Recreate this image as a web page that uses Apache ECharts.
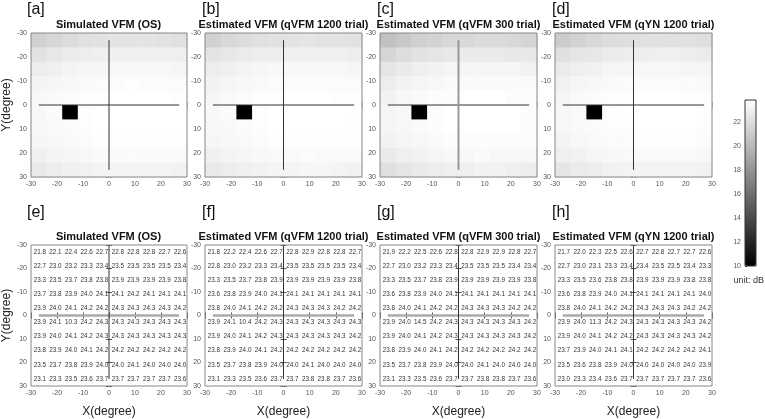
<!DOCTYPE html>
<html><head><meta charset="utf-8">
<script src="https://cdn.jsdelivr.net/npm/echarts@6/dist/echarts.min.js"></script>
<style>html,body{margin:0;padding:0;background:#fff}#c{width:765px;height:419px}</style>
</head><body><div id="c"></div>
<script>
// ---- data ----
const axisTicks = [-30, -20, -10, 0, 10, 20, 30];
const cellCenters = [-27, -21, -15, -9, -3, 3, 9, 15, 21, 27];
const panelTitles = ['Simulated VFM (OS)', 'Estimated VFM (qVFM 1200 trial)', 'Estimated VFM (qVFM 300 trial)', 'Estimated VFM (qYN 1200 trial)'];
const topLetters = ['[a]', '[b]', '[c]', '[d]'];
const bottomLetters = ['[e]', '[f]', '[g]', '[h]'];
const colorbarTicks = [10, 12, 14, 16, 18, 20, 22];
const colorbarRange = [10, 23.8];

const vfmOS = [
  [21.8, 22.1, 22.4, 22.6, 22.7, 22.8, 22.8, 22.8, 22.7, 22.6],
  [22.7, 23.0, 23.2, 23.3, 23.4, 23.5, 23.5, 23.5, 23.5, 23.4],
  [23.3, 23.5, 23.7, 23.8, 23.8, 23.9, 23.9, 23.9, 23.9, 23.8],
  [23.7, 23.8, 23.9, 24.0, 24.1, 24.1, 24.2, 24.1, 24.1, 24.1],
  [23.9, 24.0, 24.1, 24.2, 24.2, 24.3, 24.3, 24.3, 24.3, 24.2],
  [23.9, 24.1, 10.3, 24.2, 24.3, 24.3, 24.3, 24.3, 24.3, 24.3],
  [23.9, 24.0, 24.1, 24.2, 24.3, 24.3, 24.3, 24.3, 24.3, 24.3],
  [23.8, 23.9, 24.0, 24.1, 24.2, 24.2, 24.2, 24.2, 24.2, 24.2],
  [23.5, 23.7, 23.8, 23.9, 24.0, 24.0, 24.1, 24.0, 24.0, 24.0],
  [23.1, 23.3, 23.5, 23.6, 23.7, 23.7, 23.7, 23.7, 23.7, 23.6]
];
const vfmQ1200 = [
  [21.8, 22.2, 22.4, 22.6, 22.7, 22.8, 22.9, 22.8, 22.8, 22.7],
  [22.8, 23.0, 23.2, 23.3, 23.4, 23.5, 23.5, 23.5, 23.5, 23.4],
  [23.3, 23.5, 23.7, 23.8, 23.9, 23.9, 23.9, 23.9, 23.9, 23.8],
  [23.6, 23.8, 23.9, 24.0, 24.1, 24.1, 24.1, 24.1, 24.1, 24.1],
  [23.8, 24.0, 24.1, 24.2, 24.2, 24.3, 24.3, 24.3, 24.2, 24.2],
  [23.9, 24.1, 10.4, 24.2, 24.3, 24.3, 24.3, 24.3, 24.3, 24.3],
  [23.9, 24.0, 24.1, 24.2, 24.3, 24.3, 24.3, 24.3, 24.3, 24.2],
  [23.8, 23.9, 24.0, 24.1, 24.2, 24.2, 24.2, 24.2, 24.2, 24.2],
  [23.5, 23.7, 23.8, 23.9, 24.0, 24.0, 24.1, 24.0, 24.0, 24.0],
  [23.1, 23.3, 23.5, 23.6, 23.7, 23.7, 23.8, 23.8, 23.7, 23.6]
];
const vfmQ300 = [
  [21.9, 22.2, 22.5, 22.6, 22.8, 22.8, 22.9, 22.9, 22.8, 22.7],
  [22.7, 23.0, 23.2, 23.3, 23.4, 23.5, 23.5, 23.5, 23.4, 23.4],
  [23.3, 23.5, 23.7, 23.8, 23.9, 23.9, 23.9, 23.9, 23.9, 23.8],
  [23.6, 23.8, 23.9, 24.0, 24.1, 24.1, 24.1, 24.1, 24.1, 24.1],
  [23.8, 24.0, 24.1, 24.2, 24.2, 24.3, 24.3, 24.3, 24.2, 24.2],
  [23.9, 24.0, 14.5, 24.2, 24.3, 24.3, 24.3, 24.3, 24.3, 24.2],
  [23.9, 24.0, 24.1, 24.2, 24.3, 24.3, 24.3, 24.3, 24.3, 24.2],
  [23.8, 23.9, 24.0, 24.1, 24.2, 24.2, 24.2, 24.2, 24.2, 24.2],
  [23.5, 23.7, 23.8, 23.9, 24.0, 24.0, 24.1, 24.0, 24.0, 24.0],
  [23.1, 23.3, 23.5, 23.6, 23.7, 23.7, 23.8, 23.8, 23.7, 23.6]
];
const vfmYN = [
  [21.7, 22.0, 22.3, 22.5, 22.6, 22.7, 22.8, 22.7, 22.7, 22.6],
  [22.7, 23.0, 23.1, 23.3, 23.4, 23.4, 23.5, 23.5, 23.4, 23.3],
  [23.3, 23.5, 23.6, 23.8, 23.8, 23.9, 23.9, 23.9, 23.8, 23.8],
  [23.6, 23.8, 23.9, 24.0, 24.1, 24.1, 24.1, 24.1, 24.1, 24.0],
  [23.8, 24.0, 24.1, 24.2, 24.2, 24.3, 24.3, 24.3, 24.2, 24.2],
  [23.9, 24.0, 11.3, 24.2, 24.3, 24.3, 24.3, 24.3, 24.3, 24.2],
  [23.9, 24.0, 24.1, 24.2, 24.2, 24.3, 24.3, 24.3, 24.3, 24.2],
  [23.7, 23.9, 24.0, 24.1, 24.1, 24.2, 24.2, 24.2, 24.2, 24.1],
  [23.5, 23.6, 23.8, 23.9, 24.0, 24.0, 24.0, 24.0, 24.0, 23.9],
  [23.0, 23.3, 23.4, 23.6, 23.7, 23.7, 23.7, 23.7, 23.7, 23.6]
];
const panels = [vfmOS, vfmQ1200, vfmQ300, vfmYN];

// cross lines (degrees)
const crossH = [[-27, 0], [27, 0]];
const crossVTop = [[0, -27], [0, 27]];
const crossVBottom = [[0, -30], [0, 27]];

// ---- layout ----
const FONT = 'Liberation Sans, Arial, sans-serif';
const L0 = 30, STEP = 175, PW = 157;
const TOP1 = 33, PH1 = 144, TOP2 = 245, PH2 = 143;
const CB = {left: 745, top: 100, width: 11, height: 166};

function toCells(m) {
  const out = [];
  m.forEach((row, r) => row.forEach((v, c) => out.push([cellCenters[c], cellCenters[r], v])));
  return out;
}

const grid = [], xAxis = [], yAxis = [], series = [], visualMap = [], graphic = [];

function addAxes(g, isBottomRow) {
  const base = {min: -30, max: 30, interval: 10, type: 'value', gridIndex: g,
    splitLine: {show: false}, axisLine: {show: false},
    axisTick: {inside: true, length: 3, lineStyle: {color: '#555'}}};
  xAxis.push(Object.assign({}, base, {position: 'bottom',
    axisLabel: {fontSize: 7, color: '#555', margin: 4, fontFamily: FONT},
    name: isBottomRow ? 'X(degree)' : '', nameLocation: 'middle', nameGap: 20,
    nameTextStyle: {fontSize: 12, color: '#222', fontFamily: FONT}}));
  xAxis.push(Object.assign({}, base, {position: 'top', axisLabel: {show: false}}));
  const first = (g % 4) === 0;
  yAxis.push(Object.assign({}, base, {position: 'left', inverse: true,
    axisLabel: {fontSize: 7, color: '#555', margin: 4, fontFamily: FONT},
    name: first ? 'Y(degree)' : '', nameLocation: 'middle', nameGap: 18,
    nameTextStyle: {fontSize: 12, color: '#222', fontFamily: FONT}}));
  yAxis.push(Object.assign({}, base, {position: 'right', inverse: true, axisLabel: {show: false}}));
}

for (let i = 0; i < 4; i++) {
  grid.push({left: L0 + STEP * i, top: TOP1, width: PW, height: PH1, show: true, borderColor: '#888', borderWidth: 1, z: 5});
}
for (let i = 0; i < 4; i++) {
  grid.push({left: L0 + STEP * i, top: TOP2, width: PW, height: PH2, show: true, borderColor: '#888', borderWidth: 1, z: 5});
}
for (let g = 0; g < 8; g++) addAxes(g, g >= 4);

// colorbar grid (index 8)
grid.push({left: CB.left, top: CB.top, width: CB.width, height: CB.height, show: true, borderColor: '#333', borderWidth: 1, z: 10});
xAxis.push({type: 'value', gridIndex: 8, show: false, min: 0, max: 1});
yAxis.push({type: 'value', gridIndex: 8, min: colorbarRange[0], max: colorbarRange[1], interval: 2,
  position: 'left', axisLine: {show: false}, splitLine: {show: false},
  axisTick: {inside: true, length: 2, lineStyle: {color: '#333'}},
  axisLabel: {fontSize: 7, color: '#555', margin: 4, fontFamily: FONT, showMaxLabel: false,
    formatter: v => colorbarTicks.indexOf(v) >= 0 ? String(v) : ''}});

// heat series (top row)
panels.forEach((m, i) => {
  const flat = m.flat();
  visualMap.push({type: 'continuous', show: false, seriesIndex: series.length, dimension: 2,
    min: Math.min.apply(null, flat), max: Math.max.apply(null, flat),
    inRange: {color: ['#000000', '#ffffff']}});
  series.push({type: 'custom', xAxisIndex: 2 * i, yAxisIndex: 2 * i, data: toCells(m), z: 1,
    renderItem: (params, api) => {
      const x = api.value(0), y = api.value(1);
      const p1 = api.coord([x - 3, y - 3]), p2 = api.coord([x + 3, y + 3]);
      return {type: 'rect', shape: {x: Math.min(p1[0], p2[0]), y: Math.min(p1[1], p2[1]),
        width: Math.abs(p2[0] - p1[0]) + 0.6, height: Math.abs(p2[1] - p1[1]) + 0.6},
        style: {fill: api.visual('color')}};
    }});
});

// cross lines
for (let g = 0; g < 8; g++) {
  const bottom = g >= 4;
  series.push({type: 'line', xAxisIndex: 2 * g, yAxisIndex: 2 * g, data: crossH, symbol: 'none', z: 3,
    lineStyle: bottom ? {color: '#aaa', width: 2.5} : {color: '#333', width: 1}, silent: true});
  const vStyle = (g === 2) ? {color: '#999', width: 2} : {color: '#333', width: 1};
  series.push({type: 'line', xAxisIndex: 2 * g, yAxisIndex: 2 * g, data: bottom ? crossVBottom : crossVTop,
    symbol: 'none', z: 3, lineStyle: vStyle, silent: true});
}

// numbers (bottom row)
panels.forEach((m, i) => {
  const g = 4 + i;
  series.push({type: 'custom', xAxisIndex: 2 * g, yAxisIndex: 2 * g, data: toCells(m), z: 4,
    renderItem: (params, api) => {
      const p = api.coord([api.value(0), api.value(1)]);
      return {type: 'text', x: p[0] + 1, y: p[1],
        style: {text: api.value(2).toFixed(1), font: '6.3px ' + FONT, fill: '#333', align: 'center', verticalAlign: 'middle'}};
    }});
});

// colorbar visual map on a dummy empty series
visualMap.push({type: 'continuous', show: true, seriesIndex: series.length, dimension: 1,
  min: colorbarRange[0], max: colorbarRange[1], orient: 'vertical', left: CB.left, top: CB.top,
  itemWidth: CB.width, itemHeight: CB.height, padding: 0, calculable: false, hoverLink: false,
  text: ['', ''], textGap: 0, textStyle: {fontSize: 1, color: 'transparent'},
  inRange: {color: ['#000000', '#ffffff']}});
series.push({type: 'custom', xAxisIndex: 16, yAxisIndex: 16, data: [], renderItem: () => null});

// texts
for (let i = 0; i < 4; i++) {
  const cx = L0 + STEP * i + PW / 2;
  graphic.push({type: 'text', x: cx, y: 25, style: {text: panelTitles[i], font: 'bold 11px ' + FONT, fill: '#111', align: 'center', verticalAlign: 'middle'}});
  graphic.push({type: 'text', x: cx, y: 237, style: {text: panelTitles[i], font: 'bold 11px ' + FONT, fill: '#111', align: 'center', verticalAlign: 'middle'}});
  graphic.push({type: 'text', x: L0 + STEP * i - 3, y: 10, style: {text: topLetters[i], font: '16px ' + FONT, fill: '#111', align: 'left', verticalAlign: 'middle'}});
  graphic.push({type: 'text', x: L0 + STEP * i - 3, y: 213, style: {text: bottomLetters[i], font: '16px ' + FONT, fill: '#111', align: 'left', verticalAlign: 'middle'}});
}
graphic.push({type: 'text', x: 764, y: 281, style: {text: 'unit: dB', font: '9px ' + FONT, fill: '#333', align: 'right', verticalAlign: 'middle'}});

const chart = echarts.init(document.getElementById('c'), null, {renderer: 'canvas'});
chart.setOption({animation: false, backgroundColor: '#fff', grid, xAxis, yAxis, visualMap, series, graphic});
</script></body></html>
